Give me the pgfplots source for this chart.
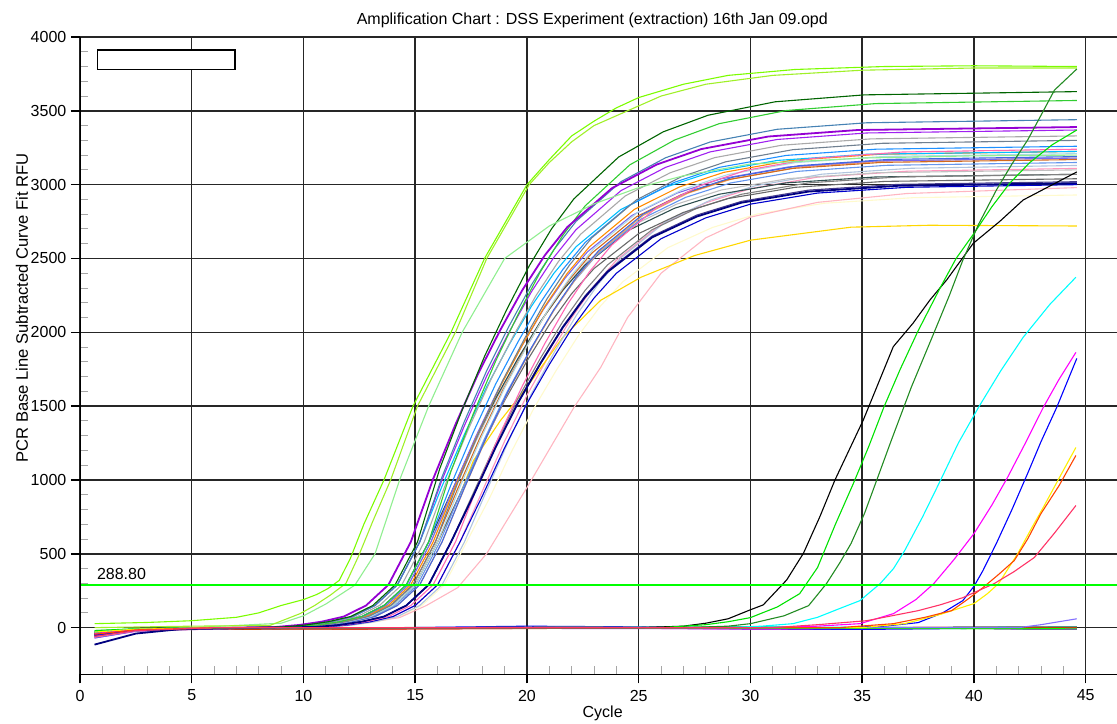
\documentclass[border=0pt]{standalone}
\usepackage{fontspec}
\setmainfont{Liberation Sans}
\usepackage{pgfplots}
\pgfplotsset{compat=1.18}
\definecolor{cDG}{RGB}{0,100,0}
\definecolor{cLG}{RGB}{50,205,50}
\definecolor{cSB}{RGB}{70,130,180}
\definecolor{cDV}{RGB}{148,0,211}
\definecolor{cPU}{RGB}{160,32,240}
\definecolor{cDGy}{RGB}{169,169,169}
\definecolor{cSG}{RGB}{112,128,144}
\definecolor{cDB}{RGB}{30,144,255}
\definecolor{cHP}{RGB}{255,105,180}
\definecolor{cDO}{RGB}{255,140,0}
\definecolor{cLB}{RGB}{173,216,230}
\definecolor{cRB}{RGB}{65,105,225}
\definecolor{cCH}{RGB}{210,105,30}
\definecolor{cMS}{RGB}{123,104,238}
\definecolor{cLS}{RGB}{176,196,222}
\definecolor{cGY}{RGB}{128,128,128}
\definecolor{cDIM}{RGB}{105,105,105}
\definecolor{cNV}{RGB}{0,0,128}
\definecolor{cDSB}{RGB}{72,61,139}
\definecolor{cMB}{RGB}{0,0,205}
\definecolor{cCF}{RGB}{100,149,237}
\definecolor{cSA}{RGB}{244,164,96}
\definecolor{cSI}{RGB}{192,192,192}
\definecolor{cDS}{RGB}{0,191,255}
\definecolor{cDSG}{RGB}{47,79,79}
\definecolor{cLP}{RGB}{255,182,193}
\definecolor{cMP}{RGB}{255,150,190}
\definecolor{cLY}{RGB}{255,250,205}
\definecolor{cGO}{RGB}{255,215,0}
\definecolor{cL1}{RGB}{124,252,0}
\definecolor{cL2}{RGB}{160,240,40}
\definecolor{cL3}{RGB}{144,238,144}
\definecolor{cBG}{RGB}{0,225,0}
\definecolor{cFG}{RGB}{34,139,34}
\definecolor{cCY}{RGB}{0,255,255}
\definecolor{cMG}{RGB}{255,0,255}
\definecolor{cBL}{RGB}{0,0,255}
\definecolor{cYE}{RGB}{255,240,0}
\definecolor{cOR}{RGB}{255,69,0}
\definecolor{cCR}{RGB}{255,51,102}
\definecolor{cSL}{RGB}{132,112,255}
\definecolor{cRE}{RGB}{255,0,0}
\definecolor{cBR}{RGB}{192,64,0}
\definecolor{cGR}{RGB}{0,128,0}
\definecolor{cTH}{RGB}{0,255,0}
\begin{document}
\begin{tikzpicture}
\begin{axis}[
  scale only axis, width=518.5pt, height=318.65pt,
  xmin=0, xmax=46.4, ymin=-316, ymax=4000,
  axis line style={draw=none},
  xtick={0,5,...,45}, ytick={0,500,...,4000},
  minor x tick num=4, minor y tick num=4,
  tick align=inside, tick pos=left,
  major tick length=0pt, minor tick length=4pt,
  minor tick style={black!35, line width=0.5pt},
  grid=major, major grid style={black!85, line width=0.75pt},
  extra x ticks={0,5,...,45}, extra x tick labels={},
  extra y ticks={0,500,...,4000}, extra y tick labels={},
  extra tick style={grid=none, tick align=outside, major tick length=4.5pt, major tick style={black, line width=0.75pt}},
  /pgf/number format/assume math mode=true,
  /pgf/number format/1000 sep={},
  ticklabel style={font=\fontsize{8}{9.6}\selectfont},
  xticklabel style={yshift=-4.3pt},
  yticklabel style={xshift=-3.3pt},
  title={Amplification Chart : DSS Experiment (extraction) 16th Jan 09.opd},
  title style={at={(0.494,1)}, anchor=base, yshift=0pt, font=\fontsize{8}{9.6}\selectfont},
  xlabel={Cycle}, ylabel={PCR Base Line Subtracted Curve Fit RFU},
  every axis x label/.style={at={(axis description cs:0.504,0)}, anchor=base, yshift=-21.8pt, font=\fontsize{8}{9.6}\selectfont},
  every axis y label/.style={at={(axis description cs:-0.056,0.575)}, rotate=90, anchor=center, font=\fontsize{8.3}{10}\selectfont},
  every axis plot/.append style={line width=0.55pt, no markers},
]
\coordinate (axsw) at (rel axis cs:0,0);
% flat curves
\addplot[cRE] coordinates {(0.65,-45)(2.5,-15)(5,-5)(10,-8)(13,-10)(20,-5)(30,-3)(40,2)(44.6,0)};
\addplot[cBL] coordinates {(0.65,-60)(2.5,-20)(5,-10)(12,-5)(20,10)(25,5)(30,-10)(35,-12)(40,-5)(44.6,-5)};
\addplot[cCY] coordinates {(0.65,-30)(3,-8)(8,-5)(15,-2)(20,0)(30,5)(38,0)(44.6,5)};
\addplot[cMG] coordinates {(0.65,-70)(2.5,-25)(5,-8)(10,-3)(20,0)(31,-10)(35,-3)(44.6,-4)};
\addplot[cGR] coordinates {(0.65,-40)(3,-10)(10,-5)(20,-3)(30,3)(40,-6)(44.6,-12)};
\addplot[black] coordinates {(0.65,-55)(2.5,-18)(6,-3)(15,0)(25,2)(35,0)(42,4)(44.6,3)};
\addplot[cPU] coordinates {(0.65,-35)(3,-10)(10,0)(20,-5)(30,-8)(40,-5)(43,-12)(44.6,-12)};
\addplot[cGY] coordinates {(0.65,-50)(3,-15)(10,-2)(22,5)(32,-2)(44.6,2)};
\addplot[cTH] coordinates {(0.65,-30)(3,-5)(10,0)(25,-3)(35,-5)(44.6,-8)};
\addplot[cBR] coordinates {(0.65,-40)(3,-12)(10,-10)(20,-6)(30,0)(40,0)(44.6,2)};
\addplot[cSL] coordinates {(0.65,-20)(6,0)(42,0)(43,20)(44.6,60)};
% main cluster
\addplot[cLY] coordinates {(0.65,-30)(2.5,-10)(9.3,0)(11.3,5)(12.3,18)(13.3,40)(14.3,75)(15.3,150)(16.3,290)(17.3,580)(18.3,870)(19.3,1190)(20.3,1483)(21.3,1740)(22.3,1978)(23.3,2180)(24.3,2344)(26.3,2573)(28.3,2710)(30.3,2801)(33.3,2874)(37.3,2912)(44.6,2930)};
\addplot[cLP] coordinates {(0.65,-40)(2.5,-13)(9,0)(12,15)(14.3,68)(15.5,150)(16.9,271)(18.2,502)(20.0,949)(22.1,1491)(23.3,1763)(24.5,2100)(26,2400)(28,2640)(30,2780)(33,2880)(37,2940)(44.6,2980)};
\addplot[cMP] coordinates {(0.65,-50)(2.5,-17)(9.0,0)(11.0,5)(12.0,18)(13.0,40)(14.0,75)(15.0,150)(16.0,290)(17.0,580)(18.0,924)(19.0,1263)(20.0,1574)(21.0,1847)(22.0,2099)(23.0,2314)(24.0,2488)(26.0,2731)(28.0,2877)(30.0,2973)(33.0,3051)(37.0,3091)(44.6,3110)};
\addplot[cGO] coordinates {(0.65,-45)(2.5,-15)(8,0)(10,5)(11,18)(12,40)(13,75)(14,150)(15,290)(16,580)(17,900)(17.6,1130)(18.8,1400)(20.0,1630)(21.6,1966)(23.3,2217)(25.1,2373)(27.5,2520)(30,2624)(34.5,2712)(38,2725)(44.6,2720)};
\addplot[cLS] coordinates {(0.65,-40)(2.5,-13)(9.2,0)(11.2,5)(12.2,18)(13.2,40)(14.2,75)(15.2,150)(16.2,290)(17.2,580)(18.2,930)(19.2,1271)(20.2,1584)(21.2,1859)(22.2,2113)(23.2,2329)(24.2,2504)(26.2,2748)(28.2,2895)(30.2,2992)(33.2,3071)(37.2,3111)(44.6,3130)};
\addplot[cSI] coordinates {(0.65,-65)(2.5,-22)(7.7,0)(9.7,5)(10.7,18)(11.7,40)(12.7,75)(13.7,150)(14.7,290)(15.7,580)(16.7,921)(17.7,1259)(18.7,1569)(19.7,1841)(20.7,2093)(21.7,2306)(22.7,2480)(24.7,2722)(26.7,2868)(28.7,2964)(31.7,3041)(35.7,3081)(44.6,3100)};
\addplot[cDSG] coordinates {(0.65,-55)(2.5,-18)(7.6,0)(9.6,5)(10.6,18)(11.6,40)(12.6,75)(13.6,150)(14.6,290)(15.6,580)(16.6,912)(17.6,1246)(18.6,1553)(19.6,1824)(20.6,2072)(21.6,2284)(22.6,2456)(24.6,2695)(26.6,2840)(28.6,2935)(31.6,3012)(35.6,3052)(44.6,3070)};
\addplot[cGY] coordinates {(0.65,-50)(2.5,-17)(8.6,0)(10.6,5)(11.6,18)(12.6,40)(13.6,75)(14.6,150)(15.6,290)(16.6,580)(17.6,912)(18.6,1246)(19.6,1553)(20.6,1824)(21.6,2072)(22.6,2284)(23.6,2456)(25.6,2695)(27.6,2840)(29.6,2935)(32.6,3012)(36.6,3052)(44.6,3070)};
\addplot[cDIM] coordinates {(0.65,-60)(2.5,-20)(8.0,0)(10.0,5)(11.0,18)(12.0,40)(13.0,75)(14.0,150)(15.0,290)(16.0,580)(17.0,903)(18.0,1234)(19.0,1538)(20.0,1806)(21.0,2052)(22.0,2262)(23.0,2432)(25.0,2669)(27.0,2812)(29.0,2906)(32.0,2982)(36.0,3022)(44.6,3040)};
\addplot[cDSB] coordinates {(0.65,-45)(2.5,-15)(8.6,0)(10.6,5)(11.6,18)(12.6,40)(13.6,75)(14.6,150)(15.6,290)(16.6,580)(17.6,897)(18.6,1226)(19.6,1528)(20.6,1794)(21.6,2039)(22.6,2247)(23.6,2416)(25.6,2652)(27.6,2794)(29.6,2887)(32.6,2963)(36.6,3002)(44.6,3020)};
\addplot[cMB] coordinates {(0.65,-40)(2.5,-13)(9.0,0)(11.0,5)(12.0,18)(13.0,40)(14.0,75)(15.0,150)(16.0,290)(17.0,580)(18.0,891)(19.0,1218)(20.0,1518)(21.0,1782)(22.0,2025)(23.0,2232)(24.0,2400)(26.0,2634)(28.0,2775)(30.0,2868)(33.0,2943)(37.0,2982)(44.6,3000)};
\addplot[cCF] coordinates {(0.65,-50)(2.5,-17)(8.1,0)(10.1,5)(11.1,18)(12.1,40)(13.1,75)(14.1,150)(15.1,290)(16.1,580)(17.1,936)(18.1,1279)(19.1,1594)(20.1,1871)(21.1,2126)(22.1,2344)(23.1,2520)(25.1,2766)(27.1,2914)(29.1,3011)(32.1,3090)(36.1,3131)(44.6,3150)};
\addplot[cSA] coordinates {(0.65,-35)(2.5,-12)(8.2,0)(10.2,5)(11.2,18)(12.2,40)(13.2,75)(14.2,150)(15.2,290)(16.2,580)(17.2,944)(18.2,1291)(19.2,1609)(20.2,1889)(21.2,2147)(22.2,2366)(23.2,2544)(25.2,2792)(27.2,2942)(29.2,3040)(32.2,3120)(36.2,3161)(44.6,3180)};
\addplot[cCH] coordinates {(0.65,-55)(2.5,-18)(7.9,0)(9.9,5)(10.9,18)(11.9,40)(12.9,75)(13.9,150)(14.9,290)(15.9,580)(16.9,941)(17.9,1287)(18.9,1604)(19.9,1883)(20.9,2140)(21.9,2358)(22.9,2536)(24.9,2783)(26.9,2932)(28.9,3031)(31.9,3110)(35.9,3151)(44.6,3170)};
\addplot[cMS] coordinates {(0.65,-35)(2.5,-12)(7.7,0)(9.7,5)(10.7,18)(11.7,40)(12.7,75)(13.7,150)(14.7,290)(15.7,580)(16.7,944)(17.7,1291)(18.7,1609)(19.7,1889)(20.7,2147)(21.7,2366)(22.7,2544)(24.7,2792)(26.7,2942)(28.7,3040)(31.7,3120)(35.7,3161)(44.6,3180)};
\addplot[cRB] coordinates {(0.65,-70)(2.5,-23)(8.2,0)(10.2,5)(11.2,18)(12.2,40)(13.2,75)(14.2,150)(15.2,290)(16.2,580)(17.2,947)(18.2,1295)(19.2,1614)(20.2,1895)(21.2,2153)(22.2,2373)(23.2,2552)(25.2,2801)(27.2,2951)(29.2,3050)(32.2,3129)(36.2,3171)(44.6,3190)};
\addplot[cLB] coordinates {(0.65,-30)(2.5,-10)(8.0,0)(10.0,5)(11.0,18)(12.0,40)(13.0,75)(14.0,150)(15.0,290)(16.0,580)(17.0,953)(18.0,1303)(19.0,1624)(20.0,1907)(21.0,2167)(22.0,2388)(23.0,2568)(25.0,2818)(27.0,2969)(29.0,3069)(32.0,3149)(36.0,3191)(44.6,3210)};
\addplot[cDO] coordinates {(0.65,-45)(2.5,-15)(7.8,0)(9.8,5)(10.8,18)(11.8,40)(12.8,75)(13.8,150)(14.8,290)(15.8,580)(16.8,958)(17.8,1309)(18.8,1632)(19.8,1916)(20.8,2177)(21.8,2399)(22.8,2580)(24.8,2832)(26.8,2983)(28.8,3083)(31.8,3164)(35.8,3206)(44.6,3225)};
\addplot[cDS] coordinates {(0.65,-25)(2.5,-8)(7.2,0)(9.2,5)(10.2,18)(11.2,40)(12.2,75)(13.2,150)(14.2,290)(15.2,580)(16.2,958)(17.2,1309)(18.2,1632)(19.2,1916)(20.2,2177)(21.2,2399)(22.2,2580)(24.2,2832)(26.2,2983)(28.2,3083)(31.2,3164)(35.2,3206)(44.6,3225)};
\addplot[cHP] coordinates {(0.65,-65)(2.5,-22)(8.8,0)(10.8,5)(11.8,18)(12.8,40)(13.8,75)(14.8,150)(15.8,290)(16.8,580)(17.8,962)(18.8,1315)(19.8,1639)(20.8,1925)(21.8,2187)(22.8,2411)(23.8,2592)(25.8,2845)(27.8,2997)(29.8,3097)(32.8,3178)(36.8,3221)(44.6,3240)};
\addplot[cDB] coordinates {(0.65,-40)(2.5,-13)(7.6,0)(9.6,5)(10.6,18)(11.6,40)(12.6,75)(13.6,150)(14.6,290)(15.6,580)(16.6,968)(17.6,1324)(18.6,1650)(19.6,1936)(20.6,2201)(21.6,2425)(22.6,2608)(24.6,2862)(26.6,3016)(28.6,3117)(31.6,3198)(35.6,3240)(44.6,3260)};
\addplot[cSG] coordinates {(0.65,-50)(2.5,-17)(7.9,0)(9.9,5)(10.9,18)(11.9,40)(12.9,75)(13.9,150)(14.9,290)(15.9,580)(16.9,980)(17.9,1340)(18.9,1670)(19.9,1960)(20.9,2228)(21.9,2455)(22.9,2640)(24.9,2897)(26.9,3053)(28.9,3155)(31.9,3237)(35.9,3280)(44.6,3300)};
\addplot[cDGy] coordinates {(0.65,-60)(2.5,-20)(7.4,0)(9.4,5)(10.4,18)(11.4,40)(12.4,75)(13.4,150)(14.4,290)(15.4,580)(16.4,989)(17.4,1352)(18.4,1685)(19.4,1978)(20.4,2248)(21.4,2478)(22.4,2664)(24.4,2924)(26.4,3080)(28.4,3183)(31.4,3267)(35.4,3310)(44.6,3330)};
\addplot[cPU] coordinates {(0.65,-55)(2.5,-18)(7.2,0)(9.2,5)(10.2,18)(11.2,40)(12.2,75)(13.2,150)(14.2,290)(15.2,580)(16.2,1001)(17.2,1368)(18.2,1705)(19.2,2002)(20.2,2275)(21.2,2507)(22.2,2696)(24.2,2959)(26.2,3117)(28.2,3222)(31.2,3306)(35.2,3350)(44.6,3370)};
\addplot[cSB] coordinates {(0.65,-30)(2.5,-10)(7.2,0)(9.2,5)(10.2,18)(11.2,40)(12.2,75)(13.2,150)(14.2,290)(15.2,580)(16.2,1022)(17.2,1397)(18.2,1741)(19.2,2043)(20.2,2322)(21.2,2559)(22.2,2752)(24.2,3020)(26.2,3182)(28.2,3289)(31.2,3375)(35.2,3419)(44.6,3440)};
\addplot[cLG] coordinates {(0.65,-40)(2.5,-13)(7.6,0)(9.6,5)(10.6,18)(11.6,40)(12.6,75)(13.6,150)(14.6,290)(15.6,580)(16.6,1060)(17.6,1449)(18.6,1806)(19.6,2121)(20.6,2410)(21.6,2656)(22.6,2856)(24.6,3134)(26.6,3302)(28.6,3413)(31.6,3502)(35.6,3549)(44.6,3570)};
\addplot[cNV, line width=0.9pt] coordinates {(0.65,-115)(2.5,-40)(4.5,-10)(8.6,0)(10.6,5)(11.6,18)(12.6,40)(13.6,75)(14.6,150)(15.6,290)(16.6,580)(17.6,894)(18.6,1222)(19.6,1523)(20.6,1788)(21.6,2032)(22.6,2239)(23.6,2408)(25.6,2643)(27.6,2784)(29.6,2878)(32.6,2953)(36.6,2992)(44.6,3010)};
\addplot[cDV, line width=0.9pt] coordinates {(0.65,-45)(2.5,-15)(6.8,0)(8.8,5)(9.8,18)(10.8,40)(11.8,75)(12.8,150)(13.8,290)(14.8,580)(15.8,1007)(16.8,1376)(17.8,1715)(18.8,2014)(19.8,2288)(20.8,2522)(21.8,2712)(23.8,2976)(25.8,3136)(27.8,3241)(30.8,3326)(34.8,3370)(44.6,3390)};
\addplot[cDG] coordinates {(0.65,-50)(2.5,-17)(7.1,0)(9.1,5)(10.1,18)(11.1,40)(12.1,75)(13.1,150)(14.1,290)(15.1,580)(16.1,1078)(17.1,1474)(18.1,1837)(19.1,2156)(20.1,2450)(21.1,2701)(22.1,2904)(24.1,3187)(26.1,3358)(28.1,3470)(31.1,3561)(35.1,3608)(44.6,3630)};
% early curves
\addplot[cL3] coordinates {(0.65,-20)(5,0)(9,30)(10,80)(11,160)(12.3,288)(13.2,500)(14.3,1000)(15.6,1500)(17.1,2000)(19.0,2500)(21,2720)(23,2870)(25,2980)(27,3060)(30,3140)(35,3180)(40,3195)(44.6,3200)};
\addplot[cL2] coordinates {(0.65,0)(5,10)(8.5,15)(9.85,95)(10.5,150)(11.2,220)(11.9,300)(12.45,480)(13.1,720)(13.9,1000)(15.1,1500)(16.8,2000)(18.2,2500)(20.1,3000)(21,3150)(22,3290)(23,3400)(24.5,3500)(26,3600)(28,3680)(31,3740)(35,3775)(40,3790)(44.6,3790)};
\addplot[cL1] coordinates {(0.65,27)(3,35)(5,47)(7,70)(8,100)(9,150)(10,190)(10.6,225)(11.1,265)(11.6,320)(12.1,470)(12.7,700)(13.6,1000)(14.9,1500)(16.6,2000)(18.1,2500)(20.0,3000)(21,3170)(22,3330)(23,3430)(24,3520)(25,3590)(27,3680)(29,3740)(32,3780)(36,3800)(40,3805)(44.6,3800)};
% late curves
\addplot[black] coordinates {(0.65,-30)(2.5,-10)(6,0)(25,0)(27,10)(28,30)(29,60)(29.98,120)(30.57,154)(31.62,323)(32.37,504)(33.1,750)(33.78,1000)(35.05,1407)(36.39,1903)(37.27,2061)(38.03,2219)(38.78,2355)(39.97,2603)(41.16,2752)(42.2,2896)(44.6,3086)};
\addplot[cBG] coordinates {(0.65,-20)(2.5,-7)(6,0)(26,0)(28,20)(29,40)(30,68)(31.2,140)(32.2,230)(33.0,407)(33.8,700)(34.6,975)(35.3,1230)(35.96,1490)(36.7,1750)(37.5,2010)(38.5,2305)(39.2,2500)(40.0,2670)(40.8,2850)(41.6,3010)(42.5,3150)(43.5,3270)(44.6,3370)};
\addplot[cFG] coordinates {(0.65,-40)(2.5,-13)(6,0)(27,0)(29,10)(30,27)(31.5,80)(32.6,149)(33.4,298)(34.0,440)(34.5,570)(35.1,773)(35.7,1020)(36.3,1268)(37.2,1630)(38.2,1993)(38.9,2250)(39.5,2488)(40.2,2730)(41.0,2963)(41.7,3140)(42.4,3302)(43.0,3470)(43.6,3640)(44.6,3783)};
\addplot[cCY] coordinates {(0.65,-30)(2.5,-10)(6,0)(29,0)(30.5,10)(31.9,27)(33,70)(34.0,130)(34.9,183)(35.8,298)(36.4,400)(36.9,522)(37.7,750)(38.5,997)(39.3,1250)(40.2,1491)(41.2,1740)(42.2,1966)(43.4,2190)(44.56,2373)};
\addplot[cMG] coordinates {(0.65,-40)(2.5,-13)(6,0)(31,0)(33,10)(34.9,27)(36.4,95)(37.4,190)(38.2,298)(39.1,460)(40.0,637)(40.8,830)(41.5,1017)(42.3,1250)(43.1,1491)(43.8,1680)(44.56,1864)};
\addplot[cBL] coordinates {(0.65,-50)(2.5,-17)(6,0)(34,0)(36,10)(37.5,34)(38.6,100)(39.5,183)(40.0,280)(40.4,386)(41.0,570)(41.7,800)(42.4,1044)(43.0,1260)(43.7,1491)(44.6,1823)};
\addplot[cYE] coordinates {(0.65,-30)(2.5,-10)(6,0)(35,0)(36.9,27)(38.5,90)(40,163)(40.6,230)(41.1,298)(41.96,502)(42.6,680)(43.1,814)(43.8,1010)(44.56,1220)};
\addplot[cOR] coordinates {(0.65,-45)(2.5,-15)(6,0)(34,0)(36.4,27)(37.8,70)(39.0,115)(39.7,190)(40.4,271)(41.1,360)(41.8,454)(42.4,600)(43.0,773)(43.8,960)(44.56,1166)};
\addplot[cCR] coordinates {(0.65,-60)(2.5,-20)(6,0)(31,0)(33,20)(35.2,47)(37.5,115)(38.5,155)(39.5,203)(40.9,298)(41.8,380)(42.7,475)(43.6,640)(44.56,827)};
% threshold
\addplot[cTH, line width=0.8pt] coordinates {(0,288.8)(46.4,288.8)};
\node[anchor=base west, inner sep=0pt, font=\fontsize{8}{9.6}\selectfont] at (axis cs:0.745,323) {288.80};
\draw[black, line width=0.6pt, fill=white] (axis cs:0.775,3912) rectangle (axis cs:6.935,3781);
\draw[black, line width=0.8pt] (rel axis cs:0,1) -- (rel axis cs:0,0) -- (rel axis cs:1,0);
\end{axis}
\pgfresetboundingbox
\path (axsw) ++(-40pt,-24.35pt) rectangle ++(558.5pt,361.5pt);
\end{tikzpicture}
\end{document}
